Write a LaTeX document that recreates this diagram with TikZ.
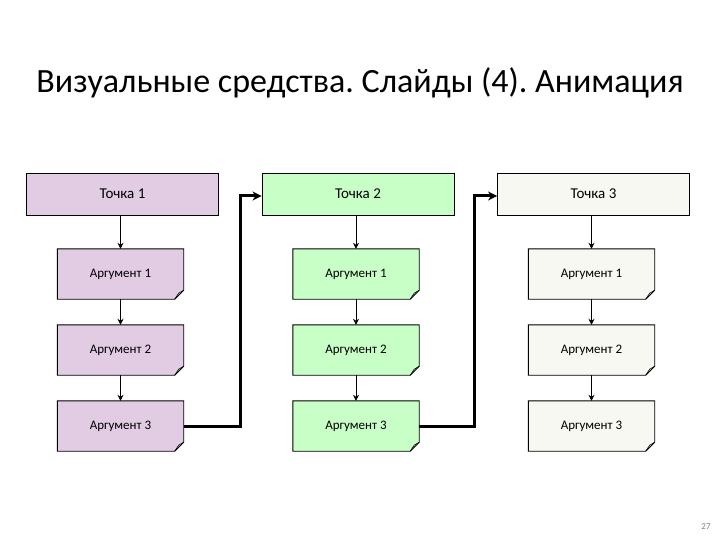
\documentclass[tikz,border=0pt]{standalone}
\usepackage{fontspec}
\setmainfont{Carlito}
\frenchspacing
\usetikzlibrary{arrows.meta}
\definecolor{cpurple}{RGB}{226,204,228}
\definecolor{cgreen}{RGB}{199,255,199}
\definecolor{cwhite}{RGB}{248,248,242}
\tikzset{
 head/.style={draw=black,line width=0.9pt,minimum width=192pt,minimum height=42pt,inner sep=0pt,font=\fontsize{15}{17}\selectfont},
 arg/.style={minimum width=126pt,minimum height=50pt,inner sep=0pt,font=\fontsize{13}{15}\selectfont},
 conn/.style={-{Stealth[length=6pt,width=6pt]},line width=0.8pt},
 jump/.style={-{Stealth[length=9pt,width=9pt]},line width=3pt}
}
\newcommand{\foldbox}[2]{%
 \fill[#2] (#1.north west)--(#1.north east)--([yshift=9pt]#1.south east)--([xshift=-9pt]#1.south east)--(#1.south west)--cycle;
 \draw[line width=0.9pt] (#1.north west)--(#1.north east)--([yshift=9pt]#1.south east)--([xshift=-9pt]#1.south east)--(#1.south west)--cycle;
 \draw[line width=0.6pt] ([yshift=9pt]#1.south east)--([xshift=-5pt,yshift=6pt]#1.south east)--([xshift=-9pt]#1.south east);}
\begin{document}
\begin{tikzpicture}[x=1pt,y=-1pt]
\useasboundingbox (0,0) rectangle (720,540);
\node (title) at (360,83) {\fontsize{34}{38}\selectfont Визуальные средства. Слайды (4). Анимация};
\node[font=\fontsize{9}{10}\selectfont,text=gray] (pg) at (706,527) {27};
\foreach \c/\x/\col in {1/122.5/cpurple,2/358/cgreen,3/593.5/cwhite}{
 \node[head,fill=\col] (h\c) at (\x,194) {Точка \c};
 \foreach \r/\y in {1/274,2/350,3/426}{
  \node[arg] (a\c\r) at (\x-2,\y) {};
  \foldbox{a\c\r}{\col}
  \node[arg] at (\x-2,\y) {Аргумент \r};
 }
 \draw[conn] (h\c.south -| a\c1) -- (a\c1);
 \draw[conn] (a\c1) -- (a\c2);
 \draw[conn] (a\c2) -- (a\c3);
}
\draw[jump] (a13.east) -- (240,426) -- (240,196) -- (h2.west |- 0,196);
\draw[jump] (a23.east) -- (474,426) -- (474,196) -- (h3.west |- 0,196);
\end{tikzpicture}
\end{document}
